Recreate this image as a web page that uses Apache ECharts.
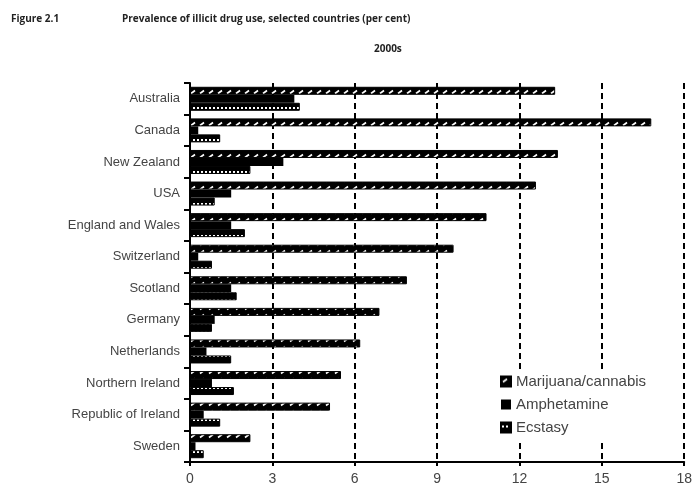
<!DOCTYPE html>
<html>
<head>
<meta charset="utf-8">
<style>
  html, body { margin: 0; padding: 0; background: #fff; }
  #chart { width: 695px; height: 495px; }
</style>
<script src="https://cdn.jsdelivr.net/npm/echarts@6/dist/echarts.min.js"></script>
</head>
<body>
<div id="chart"></div>
<script>
// data
const countries = ['Australia', 'Canada', 'New Zealand', 'USA', 'England and Wales', 'Switzerland',
  'Scotland', 'Germany', 'Netherlands', 'Northern Ireland', 'Republic of Ireland', 'Sweden'];
const marijuana = [13.3, 16.8, 13.4, 12.6, 10.8, 9.6, 7.9, 6.9, 6.2, 5.5, 5.1, 2.2];
const amphetamine = [3.8, 0.3, 3.4, 1.5, 1.5, 0.3, 1.5, 0.9, 0.6, 0.8, 0.5, 0.2];
const ecstasy = [4.0, 1.1, 2.2, 0.9, 2.0, 0.8, 1.7, 0.8, 1.5, 1.6, 1.1, 0.5];
const xTicks = [0, 3, 6, 9, 12, 15, 18];

// hatch fills
function makeHatch() {
  const c = document.createElement('canvas');
  c.width = 9; c.height = 8;
  const g = c.getContext('2d');
  g.fillStyle = '#000';
  g.fillRect(0, 0, 9, 8);
  g.strokeStyle = '#fff';
  g.lineWidth = 1.6;
  g.beginPath();
  g.moveTo(2, 5.5); g.lineTo(6, 2.5);
  g.stroke();
  return c;
}
function makeDots() {
  const c = document.createElement('canvas');
  c.width = 4; c.height = 8;
  const g = c.getContext('2d');
  g.fillStyle = '#000';
  g.fillRect(0, 0, 4, 8);
  g.fillStyle = '#fff';
  g.fillRect(1, 3, 2, 2);
  return c;
}

const chart = echarts.init(document.getElementById('chart'));
const labelFont = { fontFamily: 'Liberation Sans', fontSize: 13, color: '#444' };
const titleFont = { fontFamily: 'Open Sans', fontSize: 10, fontWeight: 'bold', color: '#222' };

chart.setOption({
  animation: false,
  title: [
    { text: 'Figure 2.1', left: 6, top: 9, textStyle: titleFont },
    { text: 'Prevalence of illicit drug use, selected countries (per cent)', left: 117, top: 9, textStyle: titleFont },
    { text: '2000s', left: 369, top: 39, textStyle: titleFont }
  ],
  legend: {
    orient: 'vertical',
    left: 494,
    top: 370,
    icon: 'rect',
    itemWidth: 10,
    itemHeight: 10,
    itemGap: 8,
    backgroundColor: '#fff',
    padding: [4, 6, 4, 6],
    textStyle: { fontFamily: 'Liberation Sans', fontSize: 15, color: '#444' },
    data: ['Marijuana/cannabis', 'Amphetamine', 'Ecstasy']
  },
  grid: { left: 190, right: 9, top: 83, bottom: 33 },
  xAxis: {
    type: 'value',
    min: 0,
    max: 18,
    interval: 3,
    axisLine: { show: true, lineStyle: { color: '#000', width: 2 } },
    axisTick: { show: true, length: 4, lineStyle: { color: '#000', width: 2 } },
    axisLabel: Object.assign({ margin: 10, fontSize: 14, formatter: v => xTicks.includes(v) ? String(v) : '' }, labelFont, { fontSize: 14 }),
    splitLine: { show: true, lineStyle: { color: '#000', width: 2, type: [6, 4] } }
  },
  yAxis: {
    type: 'category',
    inverse: true,
    data: countries,
    axisLine: { show: true, lineStyle: { color: '#000', width: 2 } },
    axisTick: { show: true, length: 6, lineStyle: { color: '#000', width: 2 } },
    axisLabel: Object.assign({ margin: 10 }, labelFont),
    splitLine: { show: false }
  },
  series: [
    {
      name: 'Marijuana/cannabis', type: 'bar', data: marijuana,
      barWidth: 8, barGap: '0%',
      itemStyle: { color: { image: makeHatch(), repeat: 'repeat' }, borderColor: '#000', borderWidth: 1 }
    },
    {
      name: 'Amphetamine', type: 'bar', data: amphetamine,
      barWidth: 8,
      itemStyle: { color: '#000' }
    },
    {
      name: 'Ecstasy', type: 'bar', data: ecstasy,
      barWidth: 8,
      itemStyle: { color: { image: makeDots(), repeat: 'repeat' }, borderColor: '#000', borderWidth: 1 }
    }
  ]
});
</script>
</body>
</html>
